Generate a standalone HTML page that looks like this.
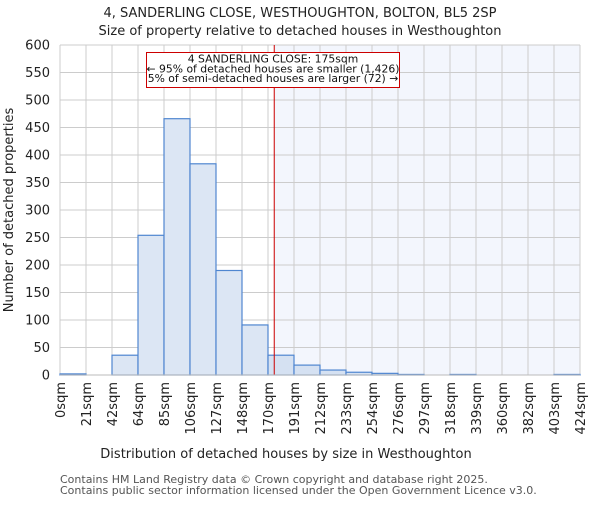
<!DOCTYPE html>
<html><head><meta charset="utf-8"><style>
body{margin:0;background:#fff;}
svg text{font-family:"DejaVu Sans","Liberation Sans",sans-serif;}
</style></head><body>
<svg id="chart" width="600" height="500" xmlns="http://www.w3.org/2000/svg">
<text x="300" y="17" text-anchor="middle" font-size="13" fill="#222">4, SANDERLING CLOSE, WESTHOUGHTON, BOLTON, BL5 2SP</text>
<text x="300" y="35" text-anchor="middle" font-size="13" fill="#222">Size of property relative to detached houses in Westhoughton</text>
<g id="plot"></g>
<text x="286" y="458" text-anchor="middle" font-size="13" fill="#222">Distribution of detached houses by size in Westhoughton</text>
<text transform="translate(13,210) rotate(-90)" text-anchor="middle" font-size="13" fill="#222">Number of detached properties</text>
<text x="60" y="483" font-size="11" fill="#555">Contains HM Land Registry data © Crown copyright and database right 2025.</text>
<text x="60" y="494" font-size="11" fill="#555">Contains public sector information licensed under the Open Government Licence v3.0.</text>
</svg>
<script>
const binLabels=["0sqm","21sqm","42sqm","64sqm","85sqm","106sqm","127sqm","148sqm","170sqm","191sqm","212sqm","233sqm","254sqm","276sqm","297sqm","318sqm","339sqm","360sqm","382sqm","403sqm","424sqm"];
const counts=[2,0,36,254,466,384,190,91,36,18,9,5,3,1,0,1,0,0,0,1];
const yTicks=[0,50,100,150,200,250,300,350,400,450,500,550,600];
const markerBin=8.24;
const ns="http://www.w3.org/2000/svg";
const X0=60,X1=580,Y0=375,Y1=45,YMAX=600;
const bw=(X1-X0)/counts.length;
const xs=i=>X0+i*bw;
const ys=v=>Y0-(v/YMAX)*(Y0-Y1);
const g=document.getElementById('plot');
function mk(t,a){const e=document.createElementNS(ns,t);for(const k in a)e.setAttribute(k,a[k]);g.appendChild(e);return e;}
const mx=xs(markerBin);
let e=mk('rect',{x:mx,y:Y1,width:X1-mx,height:Y0-Y1,fill:'#f3f6fd'});


yTicks.forEach(v=>{
 let l=mk('line',{x1:X0,x2:X1,y1:ys(v),y2:ys(v),stroke:'#cccccc','stroke-width':1});
 
 
 let t=mk('text',{x:50,y:ys(v)+4.5,'text-anchor':'end','font-size':13,fill:'#222'});
 t.textContent=v;
 
 
});
binLabels.forEach((s,i)=>{
 let l=mk('line',{x1:xs(i),x2:xs(i),y1:Y1,y2:Y0,stroke:'#cccccc','stroke-width':1});
 
 
 let t=mk('text',{transform:`translate(${xs(i)+5},382) rotate(-90)`,'text-anchor':'end','font-size':13,fill:'#222'});
 t.textContent=s;
 
 
});
counts.forEach((c,i)=>{
 if(c<=0)return;
 let r=mk('rect',{x:xs(i),y:ys(c),width:bw,height:Y0-ys(c),fill:i>=8?'#d5e1f2':'#dce6f4',stroke:'#4f86d0','stroke-width':1.2});
 
 
});
let ml=mk('line',{x1:mx,x2:mx,y1:Y1,y2:Y0,stroke:'#cc0000','stroke-width':1});


let ax=mk('line',{x1:X0,x2:X1,y1:Y0,y2:Y0,stroke:'#bbb','stroke-width':1});


let box=mk('rect',{x:146.5,y:52.5,width:253,height:35,fill:'#fff',stroke:'#cc0000','stroke-width':1});


["4 SANDERLING CLOSE: 175sqm","← 95% of detached houses are smaller (1,426)","5% of semi-detached houses are larger (72) →"].forEach((s,i)=>{
 let t=mk('text',{x:273,y:62.5+i*9.8,'text-anchor':'middle','font-size':10.8,fill:'#111'});
 t.textContent=s;
 
 
});
</script>
</body></html>
